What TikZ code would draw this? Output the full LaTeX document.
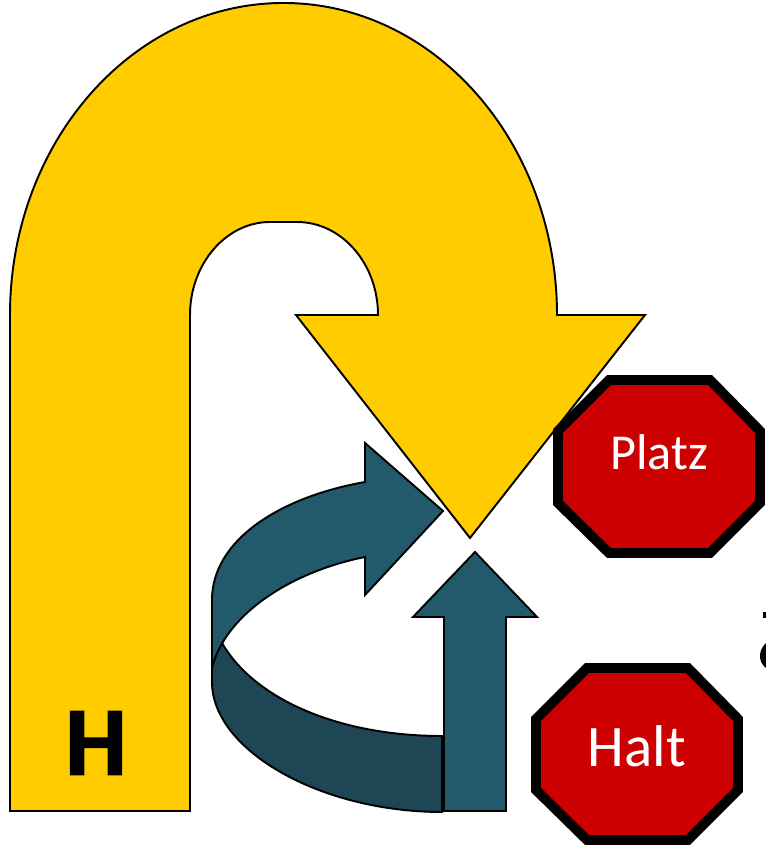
\documentclass[tikz,border=0pt]{standalone}
\usepackage{fontspec}
\setmainfont{Carlito}
\definecolor{gelb}{HTML}{FFCC00}
\definecolor{petrol}{HTML}{235A6B}
\definecolor{petroldunkel}{HTML}{1E4655}
\definecolor{stoprot}{HTML}{CC0000}
\tikzset{
	pfeilgelb/.style={draw=black, fill=gelb, line width=1.1pt, line join=miter},
	pfeilpetrol/.style={draw=black, fill=petrol, line width=1.1pt, line join=miter},
	banddunkel/.style={draw=black, fill=petroldunkel, line width=1.1pt},
	stopschild/.style={draw=black, fill=stoprot, line width=5.6pt, line join=miter},
	stoptext/.style={text=white, inner sep=0pt}
}
\begin{document}
\begin{tikzpicture}[x=0.02cm, y=0.02cm]
	\useasboundingbox (0,0) rectangle (765,848);

	%% Grosser Pfeil
	\draw[pfeilgelb] (10,37) -- (10,533)
		.. controls (10,705) and (132,845) .. (283.5,845)
		.. controls (435,845) and (557,705) .. (557,533)
		-- (645,533) -- (470,310) -- (296,533) -- (378,533)
		.. controls (378,584) and (342,626) .. (297,626)
		-- (270,626)
		.. controls (226,626) and (190,584) .. (190,533)
		-- (190,37) -- cycle;
	\node[font=\bfseries, inner sep=0pt] (buchstabe) at (96,105) {\addfontfeatures{FakeBold=2}\fontsize{55}{55}\selectfont H};

	%% Gedrehter Pfeil
	\draw[banddunkel] (222,205)
		.. controls (255,148) and (340,112) .. (442,112)
		-- (442,36)
		.. controls (320,36) and (212,98) .. (212,166)
		-- (212,180)
		.. controls (212,190) and (216,196) .. (222,205) -- cycle;
	\draw[pfeilpetrol] (365,366) -- (365,405) -- (443,337) -- (365,253) -- (365,291)
		.. controls (290,276) and (225,233) .. (212,180)
		-- (212,248)
		.. controls (212,308) and (280,351) .. (365,366) -- cycle;

	%% Gerader Pfeil
	\draw[pfeilpetrol] (444,37) -- (444,231) -- (413,231) -- (475,296)
		-- (537,231) -- (506,231) -- (506,37) -- cycle;

	%% Schild oben
	\draw[stopschild] (609,468) -- (710,468) -- (760,417) -- (760,345)
		-- (710,295) -- (609,295) -- (558,345) -- (558,417) -- cycle;
	\node[stoptext] (platz) at (659,396) {\fontsize{28.6}{29}\selectfont Platz};

	%% Schild unten
	\draw[stopschild] (587,180) -- (688,180) -- (738,129) -- (738,58)
		-- (688,8) -- (587,8) -- (536,58) -- (536,129) -- cycle;
	\node[stoptext] (halt) at (637,102) {\fontsize{33.5}{34}\selectfont Halt};

	%% Rest am rechten Rand
	\fill[black] (763,236) rectangle (766,230);
	\fill[black] (766,205) .. controls (762,201) and (760,197) .. (760,192)
		.. controls (760,187) and (762,183) .. (766,180) -- cycle;
\end{tikzpicture}
\end{document}
